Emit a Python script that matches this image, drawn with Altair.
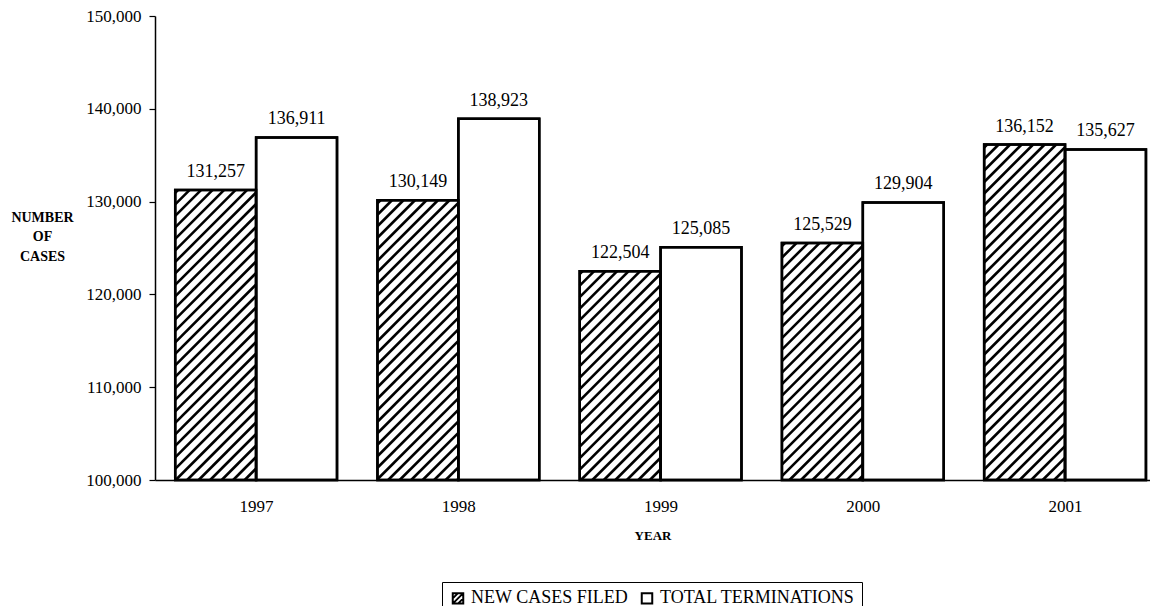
import altair as alt
import pandas as pd

# ---- data ----
years = [1997, 1998, 1999, 2000, 2001]
new_cases = [131257, 130149, 122504, 125529, 136152]
terminations = [136911, 138923, 125085, 129904, 135627]
series_names = ["NEW CASES FILED", "TOTAL TERMINATIONS"]

# ---- geometry of the chart ----
WIDTH, HEIGHT = 995, 464
X_MIN, X_MAX = 1996.5, 2001.42
Y_MIN, Y_MAX = 100000, 150000
BAR_W = 0.4            # in years
HATCH_STEP = 11.5      # px between hatch lines (horizontal)
PX_PER_YEAR = WIDTH / (X_MAX - X_MIN)
PX_PER_CASE = HEIGHT / (Y_MAX - Y_MIN)
FONT = "Liberation Serif"

rows = []
for y, a, b in zip(years, new_cases, terminations):
    rows.append({"year": y, "series": series_names[0], "value": a,
                 "x0": y - BAR_W, "x1": y, "xc": y - BAR_W / 2, "base": Y_MIN,
                 "hide": Y_MIN + 8000})
    rows.append({"year": y, "series": series_names[1], "value": b,
                 "x0": y, "x1": y + BAR_W, "xc": y + BAR_W / 2, "base": Y_MIN,
                 "hide": Y_MIN + 8000})
bars = pd.DataFrame(rows)

# hatch segments (lines "/" at 45 degrees in screen space) clipped to the hatched bars
hatch = []
for y, a in zip(years, new_cases):
    W = BAR_W * PX_PER_YEAR
    H = (a - Y_MIN) * PX_PER_CASE
    c = -H + 3
    while c < W:
        u0, u1 = max(0.0, c), min(W, c + H)
        if u1 > u0:
            hatch.append({
                "hx0": y - BAR_W + u0 / PX_PER_YEAR,
                "hx1": y - BAR_W + u1 / PX_PER_YEAR,
                "hy0": Y_MIN + (u0 - c) / PX_PER_CASE,
                "hy1": Y_MIN + (u1 - c) / PX_PER_CASE,
            })
        c += HATCH_STEP
hatch = pd.DataFrame(hatch)

xscale = alt.Scale(domain=[X_MIN, X_MAX], nice=False, zero=False)
yscale = alt.Scale(domain=[Y_MIN, Y_MAX], nice=False, zero=False)

x_axis = alt.Axis(values=years, format="d", ticks=False, grid=False, domain=True,
                  domainColor="black", domainWidth=1.5,
                  labelFont=FONT, labelFontSize=17, labelColor="black", labelPadding=18,
                  title="YEAR", titleFont=FONT, titleFontSize=13, titleFontWeight="bold",
                  titleColor="black", titlePadding=15)
y_axis = alt.Axis(values=list(range(Y_MIN, Y_MAX + 1, 10000)), format=",d", grid=False,
                  domainColor="black", domainWidth=1.5, tickColor="black", tickSize=6,
                  tickWidth=1.2, labelFont=FONT, labelFontSize=17, labelColor="black",
                  labelPadding=8,
                  title=["NUMBER", "OF", "CASES"], titleAngle=0, titleAlign="center",
                  titleBaseline="middle", titleX=-113, titleY=201, titleFont=FONT,
                  titleFontSize=14, titleFontWeight="bold", titleColor="black",
                  titleLineHeight=19.5)

hatch_path = "M-1,-1H1V1H-1Z M-1,0L0,-1 M-1,1L1,-1 M0,1L1,0"

legend_pts = alt.Chart(bars).mark_point(
    filled=False, stroke="black", strokeWidth=1.8, size=60, opacity=1
).encode(
    x=alt.X("xc:Q", scale=xscale, axis=x_axis),
    y=alt.Y("hide:Q", scale=yscale, axis=y_axis),
    shape=alt.Shape("series:N",
                    scale=alt.Scale(domain=series_names, range=[hatch_path, "square"]),
                    legend=alt.Legend(title=None, orient="none", direction="horizontal",
                                      legendX=287, legendY=566,
                                      strokeColor="black", padding=7,
                                      labelFont=FONT, labelFontSize=18, labelColor="black",
                                      labelLimit=400,
                                      symbolSize=110, symbolStrokeColor="black",
                                      symbolStrokeWidth=2,
                                      symbolOpacity=1, labelOffset=4, columnPadding=9)),
)

bar_layer = alt.Chart(bars).mark_rect(fill="white", stroke="black", strokeWidth=2.5).encode(
    x=alt.X("x0:Q", scale=xscale),
    x2="x1:Q",
    y=alt.Y("base:Q", scale=yscale),
    y2="value:Q",
)

hatch_layer = alt.Chart(hatch).mark_rule(color="black", strokeWidth=2.6).encode(
    x=alt.X("hx0:Q", scale=xscale),
    x2="hx1:Q",
    y=alt.Y("hy0:Q", scale=yscale),
    y2="hy1:Q",
)

outline_layer = alt.Chart(bars).mark_rect(fill=None, filled=False, stroke="black", strokeWidth=2.5).encode(
    x=alt.X("x0:Q", scale=xscale),
    x2="x1:Q",
    y=alt.Y("base:Q", scale=yscale),
    y2="value:Q",
)

labels = alt.Chart(bars).mark_text(font=FONT, fontSize=18, color="black",
                                   baseline="alphabetic", dy=-13).encode(
    x=alt.X("xc:Q", scale=xscale),
    y=alt.Y("value:Q", scale=yscale),
    text=alt.Text("value:Q", format=",d"),
)

chart = alt.layer(legend_pts, bar_layer, hatch_layer, outline_layer, labels).properties(
    width=WIDTH, height=HEIGHT,
    autosize=alt.AutoSizeParams(type="none"),
    padding={"left": 147, "top": 8, "right": 0, "bottom": 126},
    background="white",
).configure_view(stroke=None)

chart.save("out.html", embed_options={"renderer": "svg", "actions": False})
